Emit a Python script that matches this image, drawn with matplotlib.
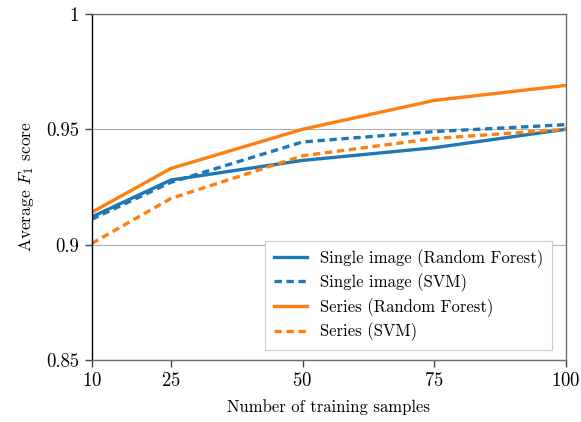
import matplotlib
matplotlib.use("Agg")
import matplotlib.pyplot as plt
from matplotlib.ticker import FuncFormatter

samples = [10, 25, 50, 75, 100]
single_rf = [0.912, 0.928, 0.9365, 0.942, 0.950]
single_svm = [0.911, 0.927, 0.9445, 0.949, 0.952]
series_rf = [0.914, 0.933, 0.950, 0.9625, 0.969]
series_svm = [0.9005, 0.920, 0.9385, 0.946, 0.950]
yticks = [0.85, 0.9, 0.95, 1.0]

BLUE = "#1f77b4"; ORANGE = "#ff7f0e"
plt.rcParams.update({"font.family": "serif", "font.serif": ["cmr10", "DejaVu Serif"],
                     "mathtext.fontset": "cm", "axes.formatter.use_mathtext": True,
                     "font.size": 12})

fig = plt.figure(figsize=(5.81, 4.22), dpi=100)
ax = fig.add_axes([0.158, 0.147, 0.816, 0.82])

ax.plot(samples, single_rf, color=BLUE, lw=2.4, label="Single image (Random Forest)")
ax.plot(samples, single_svm, color=BLUE, lw=2.4, ls=(0, (2.2, 1.4)), label="Single image (SVM)")
ax.plot(samples, series_rf, color=ORANGE, lw=2.4, label="Series (Random Forest)")
ax.plot(samples, series_svm, color=ORANGE, lw=2.4, ls=(0, (2.2, 1.4)), label="Series (SVM)")

ax.set_xlim(10, 100)
ax.set_ylim(0.85, 1.0)
ax.set_xticks(samples)
ax.set_yticks(yticks)
ax.yaxis.set_major_formatter(FuncFormatter(lambda v, _: f"{v:g}"))
ax.yaxis.grid(True, color="#b0b0b0", lw=0.8)
ax.set_axisbelow(True)
ax.tick_params(direction="out", length=5, width=1, colors="#444444",
               labelcolor="black", labelsize=13.5, pad=4)
for name, sp in ax.spines.items():
    sp.set_color("black" if name == "left" else "#6e6e6e")
    sp.set_linewidth(1.0)

ax.set_xlabel("Number of training samples", labelpad=6)
ax.set_ylabel("Average $F_1$ score", fontsize=12.5, labelpad=7)

leg = ax.legend(loc="lower right", bbox_to_anchor=(0.988, 0.006), fancybox=False,
                framealpha=1, edgecolor="#cccccc", handlelength=2.0,
                borderpad=0.5, labelspacing=0.35)
leg.get_frame().set_linewidth(0.8)

fig.savefig("out.png", dpi=100)
